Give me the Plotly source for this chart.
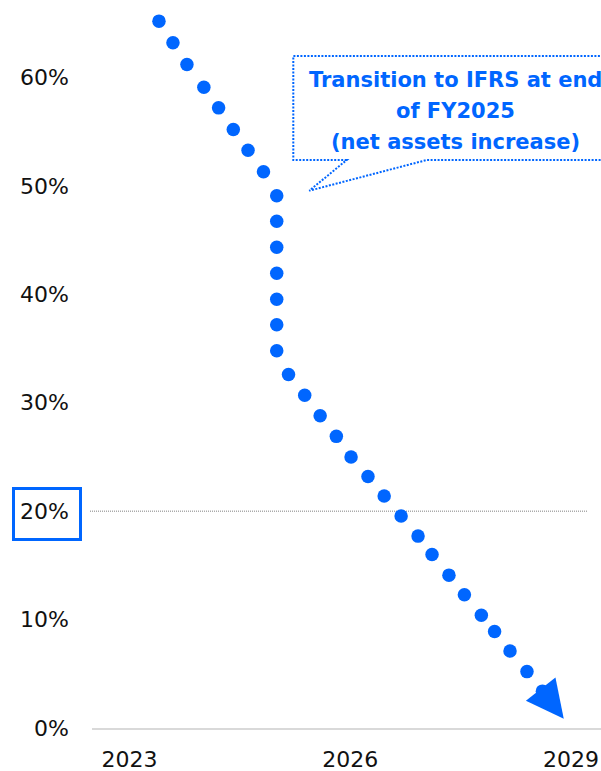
import plotly.graph_objects as go

# ---- data ----
years_tick = [2023, 2026, 2029]
pct_ticks = [0, 10, 20, 30, 40, 50, 60]

dot_x = [2023.40, 2023.59, 2023.78, 2024.01, 2024.21, 2024.41, 2024.61, 2024.82,
         2025.00, 2025.00, 2025.00, 2025.00, 2025.00, 2025.00, 2025.00,
         2025.16, 2025.38, 2025.59, 2025.81, 2026.01, 2026.24, 2026.46, 2026.69,
         2026.92, 2027.11, 2027.34, 2027.55, 2027.78, 2027.96, 2028.17, 2028.40,
         2028.61]
dot_y = [65.2, 63.2, 61.2, 59.1, 57.2, 55.2, 53.3, 51.3,
         49.1, 46.75, 44.35, 41.95, 39.55, 37.2, 34.8,
         32.6, 30.7, 28.8, 26.9, 25.0, 23.2, 21.4, 19.55,
         17.7, 16.0, 14.1, 12.3, 10.4, 8.9, 7.1, 5.2,
         3.4]
arrow_tip_x = [2028.90]
arrow_tip_y = [0.86]
target_pct = 20

callout_lines = ["Transition to IFRS at end", "of FY2025", "(net assets increase)"]

BLUE = "#0066ff"
FONT = "DejaVu Sans"

# ---- layout geometry (pixels) ----
W, H = 601, 771
ML, MR, MT, MB = 92, 0, 0, 43
PW, PH = W - ML - MR, H - MT - MB


def px(xp):
    return (xp - ML) / PW


def py(yp):
    return (H - MB - yp) / PH


fig = go.Figure()
fig.add_trace(go.Scatter(
    x=dot_x, y=dot_y, mode="markers",
    marker=dict(size=13.5, color=BLUE, line=dict(width=0)),
    hoverinfo="skip", showlegend=False))
fig.add_trace(go.Scatter(
    x=arrow_tip_x, y=arrow_tip_y, mode="markers",
    marker=dict(symbol="arrow-down", size=37.5, angle=-38, color=BLUE,
                line=dict(width=0)),
    hoverinfo="skip", showlegend=False))

# 20% dotted reference line
fig.add_shape(type="line", xref="paper", yref="y",
              x0=px(90), x1=px(587), y0=target_pct, y1=target_pct,
              line=dict(color="#808080", width=1, dash="1px,1px"), layer="below")

# box around 20% tick label
fig.add_shape(type="rect", xref="paper", yref="paper",
              x0=px(13.5), x1=px(80.5), y0=py(539.5), y1=py(488.5),
              line=dict(color=BLUE, width=3))

# callout
pts = [(346.7, 160), (293.3, 160), (293.3, 56), (640, 56), (640, 160),
       (426.7, 160), (309.3, 190.7)]
path = "M " + " L ".join(f"{px(a):.5f},{py(b):.5f}" for a, b in pts) + " Z"
fig.add_shape(type="path", xref="paper", yref="paper", path=path,
              line=dict(color=BLUE, width=2, dash="2px,1.5px"),
              fillcolor="rgba(0,0,0,0)")

for line, yc in zip(callout_lines, [80, 110.7, 141.7]):
    fig.add_annotation(xref="paper", yref="paper", x=px(455), y=py(yc),
                       text=f"<b>{line}</b>", showarrow=False,
                       xanchor="center", yanchor="middle",
                       font=dict(family=FONT, size=21, color=BLUE))

fig.update_layout(
    width=W, height=H,
    margin=dict(l=ML, r=MR, t=MT, b=MB, pad=0, autoexpand=False),
    paper_bgcolor="white", plot_bgcolor="white",
    font=dict(family=FONT, size=22, color="#111111"),
    xaxis=dict(range=[2022.49, 2029.406], tickvals=years_tick,
               ticktext=[str(y) for y in years_tick],
               showgrid=False, zeroline=False, showline=True,
               linecolor="#d9d9d9", linewidth=2, ticks="", automargin=False,
               tickfont=dict(size=22), ticklabelstandoff=11, fixedrange=True),
    yaxis=dict(range=[0, 67.15], tickvals=pct_ticks,
               ticktext=[f"{v}%" for v in pct_ticks],
               showgrid=False, zeroline=False, showline=False, ticks="",
               automargin=False,
               tickfont=dict(size=22), ticklabelstandoff=22, fixedrange=True),
)

fig.write_html("out.html", config={"displayModeBar": False})
